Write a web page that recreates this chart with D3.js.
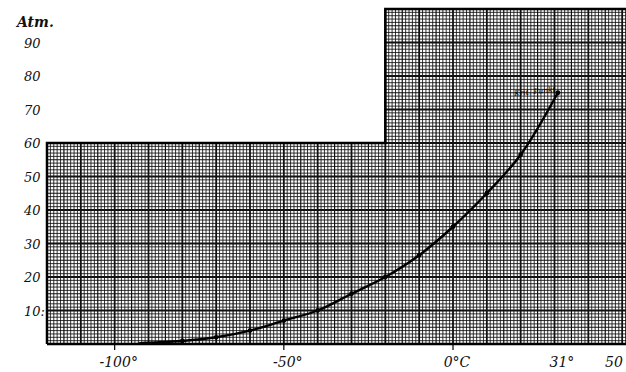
<!DOCTYPE html>
<html>
<head>
<meta charset="utf-8">
<script src="https://cdn.jsdelivr.net/npm/d3@7"></script>
<style>
  body { margin: 0; background: #fff; }
  text { font-family: "DejaVu Serif", serif; font-style: italic; fill: #111; }
</style>
</head>
<body>
<div id="chart"></div>
<script>
// vapour pressure curve (deg C -> Atm)
var temps = [-93, -90, -80, -70, -60, -50, -40, -30, -20, -10, 0, 10, 20, 31];
var atm   = [0.2, 0.4, 0.9, 2.0, 4.0, 7.0, 10.0, 15.0, 20.0, 26.5, 35.0, 45.0, 56.5, 75.0];

var yTicks = [10, 20, 30, 40, 50, 60, 70, 80, 90];
var yTickLabels = ["10:", "20", "30", "40", "50", "60", "70", "80", "90"];
var xTicks = [-100, -50, 0, 31, 50];
var xTickLabels = ["-100°", "-50°", "0°C", "31°", "50"];

var width = 626, height = 372;

var svg = d3.select("#chart").append("svg")
  .attr("width", width)
  .attr("height", height);

var x = d3.scaleLinear().domain([-120, 60]).range([47, 656]);
var y = d3.scaleLinear().domain([0, 100]).range([344, 9]);

// graph paper: lower block up to 60 Atm, upper block from -20 deg up to 100 Atm
var blocks = [
  { x0: -120, x1: 60, y0: 0, y1: 60 },
  { x0: -20, x1: 60, y0: 60, y1: 100 }
];

var paper = svg.append("g").attr("class", "paper");

blocks.forEach(function (b) {
  var vx = d3.range(b.x0, b.x1 + 1, 1);
  var hy = d3.range(b.y0, b.y1 + 1, 1);
  paper.selectAll(null)
    .data(vx)
    .enter().append("line")
    .attr("x1", d => x(d)).attr("x2", d => x(d))
    .attr("y1", y(b.y0)).attr("y2", y(b.y1))
    .attr("stroke", "#111")
    .attr("stroke-width", d => d % 10 === 0 ? 1.8 : (d % 5 === 0 ? 1.2 : 0.85));
  paper.selectAll(null)
    .data(hy)
    .enter().append("line")
    .attr("y1", d => y(d)).attr("y2", d => y(d))
    .attr("x1", x(b.x0)).attr("x2", x(b.x1))
    .attr("stroke", "#111")
    .attr("stroke-width", d => d % 10 === 0 ? 1.8 : (d % 5 === 0 ? 1.2 : 0.85));
});

// outline of the paper
var outline = [[-120, 0], [60, 0], [60, 100], [-20, 100], [-20, 60], [-120, 60], [-120, 0]];
svg.append("path")
  .attr("d", d3.line().x(d => x(d[0])).y(d => y(d[1]))(outline))
  .attr("fill", "none")
  .attr("stroke", "#000")
  .attr("stroke-width", 2.5);

// curve
var pts = temps.map((t, i) => ({ t: t, p: atm[i] }));
svg.append("path")
  .datum(pts)
  .attr("d", d3.line().curve(d3.curveCatmullRom).x(d => x(d.t)).y(d => y(d.p)))
  .attr("fill", "none")
  .attr("stroke", "#000")
  .attr("stroke-width", 2.4);

svg.selectAll(".pt")
  .data(pts.slice(2))
  .enter().append("circle")
  .attr("class", "pt")
  .attr("cx", d => x(d.t))
  .attr("cy", d => y(d.p))
  .attr("r", 2.4)
  .attr("fill", "#000");

// "Krit. Punkt" note near the critical point
svg.append("text")
  .attr("x", x(31) - 2)
  .attr("y", y(75) - 1)
  .attr("text-anchor", "end")
  .attr("transform", "rotate(-6," + (x(31) - 2) + "," + (y(75) - 1) + ")")
  .style("font-size", "7.5px")
  .style("fill", "#000")
  .text("Krit. Punkt");

// y labels
svg.selectAll(".ylab")
  .data(yTicks)
  .enter().append("text")
  .attr("class", "ylab")
  .attr("x", 24)
  .attr("y", d => y(d) + 5)
  .style("font-size", "13px")
  .text((d, i) => yTickLabels[i]);

svg.append("text")
  .attr("x", 17)
  .attr("y", 27)
  .style("font-size", "14px")
  .style("font-weight", "bold")
  .text("Atm.");

// x ticks and labels
svg.selectAll(".xtick")
  .data(xTicks.slice(0, 3))
  .enter().append("line")
  .attr("class", "xtick")
  .attr("x1", d => x(d)).attr("x2", d => x(d))
  .attr("y1", 344).attr("y2", 350)
  .attr("stroke", "#000")
  .attr("stroke-width", 1.2);

svg.selectAll(".xlab")
  .data(xTicks)
  .enter().append("text")
  .attr("class", "xlab")
  .attr("x", (d, i) => i === 4 ? 614 : x(d) + 4)
  .attr("y", 367)
  .attr("text-anchor", "middle")
  .style("font-size", "14px")
  .text((d, i) => xTickLabels[i]);
</script>
</body>
</html>
